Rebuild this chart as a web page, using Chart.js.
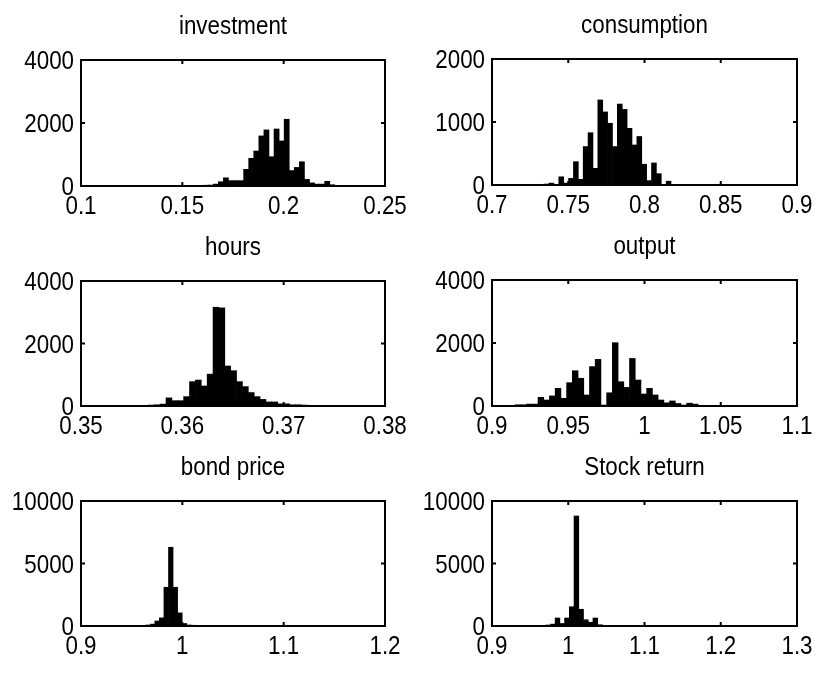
<!DOCTYPE html>
<html>
<head>
<meta charset="utf-8">
<script src="https://cdn.jsdelivr.net/npm/chart.js@4.4.0/dist/chart.umd.min.js"></script>
<style>
  body { margin: 0; background: #fff; }
  .panel { position: absolute; }
</style>
</head>
<body>
<div class="panel" id="p-investment"><canvas></canvas></div>
<div class="panel" id="p-consumption"><canvas></canvas></div>
<div class="panel" id="p-hours"><canvas></canvas></div>
<div class="panel" id="p-output"><canvas></canvas></div>
<div class="panel" id="p-bond"><canvas></canvas></div>
<div class="panel" id="p-stock"><canvas></canvas></div>
<script>
// histogram bins: first bin centre, bin width, counts
const investmentStart = 0.1165, investmentWidth = 0.0025;
const investmentCounts = [5, 3, 5, 8, 5, 8, 10, 8, 10, 5, 10, 8, 5, 3, 5, 10, 15, 20, 25, 30,
  60, 135, 260, 170, 170, 170, 530, 880, 1110, 1590, 1780, 930, 1810, 1430, 2120, 490, 590, 770,
  210, 100, 60, 60, 150, 40, 20, 15, 20, 15, 10, 10, 5];
const investmentXTicks = [0.1, 0.15, 0.2, 0.25];
const investmentYTicks = [0, 2000, 4000];

const consumptionStart = 0.7166, consumptionWidth = 0.0032;
const consumptionCounts = [3, 5, 5, 8, 5, 10, 15, 30, 10, 130, 30, 105, 370, 90, 610, 830, 265,
  1350, 1160, 980, 610, 1285, 1200, 900, 635, 770, 330, 70, 350, 180, 10, 60, 5, 3];
const consumptionXTicks = [0.7, 0.75, 0.8, 0.85, 0.9];
const consumptionYTicks = [0, 1000, 2000];

const hoursStart = 0.35462, hoursWidth = 0.00058;
const hoursCounts = [5, 10, 15, 20, 30, 40, 60, 260, 170, 170, 300, 780, 830, 640, 1020, 3160,
  3140, 1280, 1130, 780, 620, 430, 300, 210, 130, 130, 70, 70, 40, 40, 30, 20, 15];
const hoursXTicks = [0.35, 0.36, 0.37, 0.38];
const hoursYTicks = [0, 2000, 4000];

const outputStart = 0.90955, outputWidth = 0.00375;
const outputCounts = [10, 20, 40, 40, 60, 60, 275, 190, 320, 560, 245, 740, 1120, 880, 350, 1250,
  1480, 30, 420, 2010, 770, 590, 1510, 825, 380, 560, 350, 190, 100, 160, 80, 30, 90, 60, 20, 10];
const outputXTicks = [0.9, 0.95, 1, 1.05, 1.1];
const outputYTicks = [0, 2000, 4000];

const bondStart = 0.9346, bondWidth = 0.0045;
const bondCounts = [5, 5, 10, 10, 15, 20, 50, 80, 150, 400, 650, 3100, 6300, 3100, 1050, 200, 80,
  60, 40, 30, 20, 20, 15, 10, 10];
const bondXTicks = [0.9, 1, 1.1, 1.2];
const bondYTicks = [0, 5000, 10000];

const stockStart = 0.9487, stockWidth = 0.0062;
const stockCounts = [5, 10, 20, 50, 80, 150, 640, 200, 640, 1540, 8800, 1340, 500, 300, 640, 100,
  50, 30, 20, 10, 10, 5];
const stockXTicks = [0.9, 1, 1.1, 1.2, 1.3];
const stockYTicks = [0, 5000, 10000];

const FONT = "26px 'Liberation Sans', Arial, sans-serif";
const STRETCH = 0.86;   // the scanned figure has tall, narrow lettering
const Y_AXIS_W = 75, X_AXIS_H = 40, TITLE_H = 50, RIGHT_PAD = 30;

function narrowText(ctx, text, x, y, align) {
  ctx.save();
  ctx.translate(x, y);
  ctx.scale(STRETCH, 1);
  ctx.textAlign = align;
  ctx.textBaseline = 'alphabetic';
  ctx.fillText(text, 0, 0);
  ctx.restore();
}

// MATLAB style box with inward ticks on all four sides, plus labels and title
const matlabBox = {
  id: 'matlabBox',
  afterDraw(chart, args, opts) {
    const { ctx, chartArea: a, scales: { x, y } } = chart;
    ctx.save();
    ctx.strokeStyle = '#000';
    ctx.lineWidth = 2;
    ctx.strokeRect(a.left, a.top, a.right - a.left, a.bottom - a.top);
    ctx.beginPath();
    x.ticks.forEach(t => {
      const px = x.getPixelForValue(t.value);
      ctx.moveTo(px, a.bottom); ctx.lineTo(px, a.bottom - 4);
      ctx.moveTo(px, a.top); ctx.lineTo(px, a.top + 4);
    });
    y.ticks.forEach(t => {
      const py = y.getPixelForValue(t.value);
      ctx.moveTo(a.left, py); ctx.lineTo(a.left + 4, py);
      ctx.moveTo(a.right, py); ctx.lineTo(a.right - 4, py);
    });
    ctx.stroke();

    ctx.fillStyle = '#000';
    ctx.font = FONT;
    x.ticks.forEach(t => {
      narrowText(ctx, String(t.value), x.getPixelForValue(t.value), a.bottom + 28, 'center');
    });
    y.ticks.forEach(t => {
      narrowText(ctx, String(t.value), a.left - 7, y.getPixelForValue(t.value) + 9, 'right');
    });
    narrowText(ctx, opts.title, (a.left + a.right) / 2, a.top - 26, 'center');
    ctx.restore();
  }
};

function histogram(id, title, start, width, counts, xTicks, yTicks, box) {
  const el = document.getElementById(id);
  el.style.left = (box.left - Y_AXIS_W) + 'px';
  el.style.top = (box.top - TITLE_H) + 'px';
  el.style.width = (Y_AXIS_W + box.right - box.left + RIGHT_PAD) + 'px';
  el.style.height = (TITLE_H + box.bottom - box.top + X_AXIS_H) + 'px';

  const points = counts.map((c, i) => ({ x: start + i * width, y: c }));

  new Chart(el.querySelector('canvas'), {
    type: 'bar',
    data: {
      datasets: [{
        data: points,
        backgroundColor: '#000',
        borderWidth: 0,
        barPercentage: 1,
        categoryPercentage: 1
      }]
    },
    options: {
      responsive: true,
      maintainAspectRatio: false,
      animation: false,
      devicePixelRatio: 1,
      layout: { padding: { left: 0, right: RIGHT_PAD, top: TITLE_H, bottom: 0 } },
      plugins: {
        legend: { display: false },
        tooltip: { enabled: false },
        title: { display: false },
        matlabBox: { title: title }
      },
      scales: {
        x: {
          type: 'linear',
          min: xTicks[0],
          max: xTicks[xTicks.length - 1],
          offset: false,
          afterBuildTicks: s => { s.ticks = xTicks.map(v => ({ value: v })); },
          afterFit: s => { s.height = X_AXIS_H; },
          grid: { display: false, drawTicks: false, offset: false },
          border: { display: false },
          ticks: { display: false }
        },
        y: {
          min: 0,
          max: yTicks[yTicks.length - 1],
          afterBuildTicks: s => { s.ticks = yTicks.map(v => ({ value: v })); },
          afterFit: s => { s.width = Y_AXIS_W; },
          grid: { display: false, drawTicks: false },
          border: { display: false },
          ticks: { display: false }
        }
      }
    },
    plugins: [matlabBox]
  });
}

histogram('p-investment', 'investment', investmentStart, investmentWidth, investmentCounts,
  investmentXTicks, investmentYTicks, { left: 81, top: 60, right: 385, bottom: 186 });
histogram('p-consumption', 'consumption', consumptionStart, consumptionWidth, consumptionCounts,
  consumptionXTicks, consumptionYTicks, { left: 492, top: 59, right: 797, bottom: 185 });
histogram('p-hours', 'hours', hoursStart, hoursWidth, hoursCounts,
  hoursXTicks, hoursYTicks, { left: 81, top: 281, right: 385, bottom: 406 });
histogram('p-output', 'output', outputStart, outputWidth, outputCounts,
  outputXTicks, outputYTicks, { left: 492, top: 280, right: 797, bottom: 406 });
histogram('p-bond', 'bond price', bondStart, bondWidth, bondCounts,
  bondXTicks, bondYTicks, { left: 81, top: 501, right: 385, bottom: 626 });
histogram('p-stock', 'Stock return', stockStart, stockWidth, stockCounts,
  stockXTicks, stockYTicks, { left: 492, top: 501, right: 797, bottom: 626 });
</script>
</body>
</html>
